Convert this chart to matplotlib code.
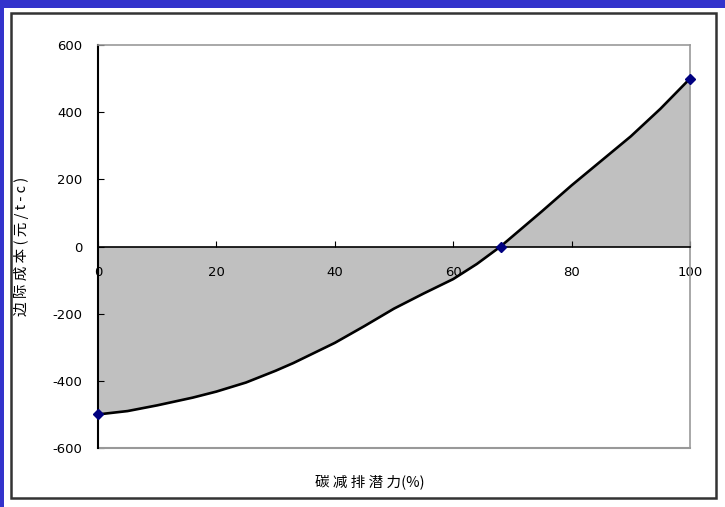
import matplotlib.pyplot as plt
from matplotlib.patches import Rectangle

plt.rcParams['font.family'] = ['Noto Sans CJK SC', 'DejaVu Sans']
plt.rcParams['axes.unicode_minus'] = False

# curve (potential %, marginal cost)
potential = [0, 5, 10, 16, 20, 25, 30, 33, 40, 45, 50, 55, 60, 64, 68, 70, 75, 80, 85, 90, 95, 100]
cost = [-500, -490, -473, -450, -432, -405, -370, -347, -287, -237, -185, -140, -97, -52, 0, 30, 105, 182, 255, 328, 410, 500]
# the three marked points
key_x = [0, 68, 100]
key_y = [-500, 0, 500]

x_ticks = [0, 20, 40, 60, 80, 100]
y_ticks = [-600, -400, -200, 0, 200, 400, 600]

fig = plt.figure(figsize=(7.25, 5.07), dpi=100)
fig.patch.set_facecolor('white')

# blue frame strips on top and left, white panel with black border
fig.patches.append(Rectangle((0, 1 - 8 / 507), 1, 8 / 507, transform=fig.transFigure,
                             facecolor='#3333CC', edgecolor='none', zorder=0))
fig.patches.append(Rectangle((0, 0), 4 / 725, 1, transform=fig.transFigure,
                             facecolor='#3333CC', edgecolor='none', zorder=0))
fig.patches.append(Rectangle((11 / 725, 9 / 507), 705 / 725, 485 / 507, transform=fig.transFigure,
                             facecolor='white', edgecolor='#333333', linewidth=1.8, zorder=1))

ax = fig.add_axes([98 / 725, 59 / 507, 592 / 725, 403 / 507])
ax.set_zorder(2)
ax.fill_between(potential, cost, 0, color='#C0C0C0', linewidth=0)
ax.plot(potential, cost, color='black', linewidth=1.9, zorder=3)
ax.plot(key_x, key_y, linestyle='none', marker='D', markersize=5,
        color='#000080', zorder=4, clip_on=False)

ax.set_xlim(0, 100)
ax.set_ylim(-600, 600)
ax.set_xticks(x_ticks)
ax.set_yticks(y_ticks)

ax.spines['bottom'].set_position(('data', 0))
ax.spines['bottom'].set_color('black')
ax.spines['bottom'].set_linewidth(1.2)
ax.spines['left'].set_color('black')
ax.spines['left'].set_linewidth(1.5)
for s in ['top', 'right']:
    ax.spines[s].set_color('#999999')
    ax.spines[s].set_linewidth(1.2)
ax.axhline(-600, color='#999999', linewidth=1.5, clip_on=False)

ax.tick_params(axis='x', direction='in', length=4, pad=14, labelsize=9.5)
ax.tick_params(axis='y', direction='in', length=4, pad=11, labelsize=9.5)
for lab in ax.get_xticklabels() + ax.get_yticklabels():
    lab.set_family('DejaVu Sans')

fig.text(370 / 725, 1 - 482 / 507, '碳 减 排 潜 力(%)', ha='center', va='center', fontsize=10.5)
fig.text(21 / 725, 1 - 246 / 507, '边 际 成 本 ( 元 / t - c )', ha='center', va='center',
         rotation=90, fontsize=10.5)

fig.savefig('out.png', dpi=100)
